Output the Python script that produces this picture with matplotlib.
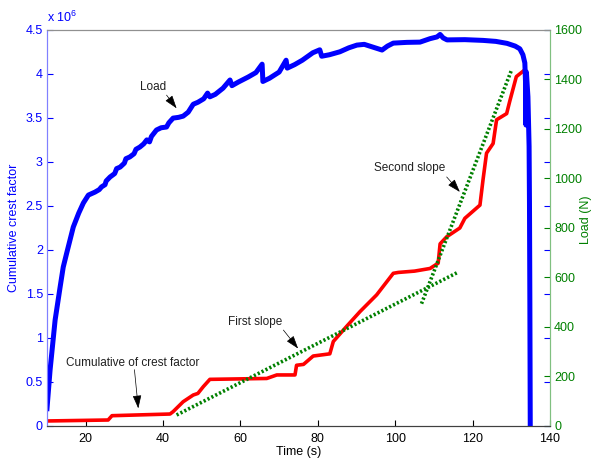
#!/usr/bin/env python3
"""========================================================================
Purpose:
    Cumulative crest factor and load versus time (plotyy style chart)
========================================================================"""
#=========================================================================#
# Preamble                                                                #
#=========================================================================#
import matplotlib
matplotlib.use('Agg')
import matplotlib.pyplot as plt
#=========================================================================#
# Data                                   #
#=========================================================================#
# Load (N), right axis
load_t  = [10, 10.8, 12.1, 13.4, 14.2, 15.1, 16.8, 18.2, 19.4, 20.7, 22.4,
           23.5, 24.1, 25.0, 25.3, 26.3, 27.5, 28.0, 28.9, 30.0, 30.4, 31.4,
           32.5, 33.0, 34.0, 35.0, 35.8, 36.5, 37.0, 38.3, 39.5, 40.9, 41.5,
           42.6, 44.0, 45.2, 46.5, 47.8, 49.0, 50.5, 51.5, 52.1, 53.5, 55.5,
           57.3, 57.8, 59.5, 62.0, 64.0, 65.6, 65.8, 67.5, 70.0, 71.8, 72.1,
           74.0, 76.0, 78.7, 80.5, 81.0, 83.0, 85.7, 88.0, 90.1, 92.0, 94.0,
           96.6, 98.0, 99.5, 103.0, 106.4, 109.0, 110.8, 111.6, 112.4, 113.4,
           118.0, 122.7, 126.0, 128.9, 131.0, 132.2, 133.0, 133.5, 133.7,
           133.8, 133.9, 134.3, 134.6, 134.7, 134.8, 134.9]
load_N  = [70, 226, 428, 562, 642, 699, 804, 860, 901, 933, 945,
           955, 966, 975, 990, 1006, 1020, 1040, 1046, 1062, 1080, 1087,
           1100, 1118, 1127, 1140, 1156, 1148, 1170, 1196, 1205, 1208, 1225,
           1244, 1247, 1252, 1268, 1300, 1308, 1322, 1345, 1330, 1340, 1365,
           1398, 1375, 1390, 1410, 1428, 1462, 1392, 1405, 1430, 1478, 1446,
           1460, 1478, 1508, 1520, 1494, 1500, 1512, 1528, 1539, 1542, 1532,
           1519, 1535, 1547, 1550, 1551, 1565, 1572, 1582, 1568, 1560,
           1561, 1558, 1554, 1546, 1535, 1524, 1500, 1467, 1380,
           1216, 1430, 1330, 1130, 900, 500, 0]
# Cumulative of crest factor (x 10^6), left axis
crest_t = [10, 25.8, 26.8, 41.8, 42.6, 45.2, 47.8, 49.0, 50.4, 52.1, 66.8,
           69.4, 74.1, 74.5, 76.3, 78.8, 83.1, 84.0, 87.4, 90.9, 95.2, 99.5,
           100.8, 105.0, 109.0, 111.1, 111.6, 113.3, 116.7, 118.0, 121.9,
           122.7, 123.6, 125.3, 126.2, 128.8, 129.6, 131.3, 133.0]
crest_v = [0.057, 0.068, 0.117, 0.136, 0.163, 0.276, 0.352, 0.37, 0.447,
           0.53, 0.54, 0.58, 0.58, 0.69, 0.70, 0.795, 0.82, 0.96, 1.13, 1.30,
           1.49, 1.735, 1.745, 1.76, 1.79, 1.85, 2.07, 2.15, 2.25, 2.36, 2.51,
           2.80, 3.10, 3.21, 3.48, 3.55, 3.69, 3.97, 4.03]
# Fitted slopes
slope1_t = [43.5, 115.9]
slope1_v = [0.125, 1.74]
slope2_t = [106.8, 130.1]
slope2_v = [1.39, 4.05]
# Ticks
x_ticks     = [20, 40, 60, 80, 100, 120, 140]
left_ticks  = [0, 0.5, 1, 1.5, 2, 2.5, 3, 3.5, 4, 4.5]
left_labels = ['0', '0.5', '1', '1.5', '2', '2.5', '3', '3.5', '4', '4.5']
right_ticks = [0, 200, 400, 600, 800, 1000, 1200, 1400, 1600]
#=========================================================================#
# Main                                                                    #
#=========================================================================#
if __name__ == '__main__':
    #---------------------------------------------------------------------#
    # Plotting settings                                                   #
    #---------------------------------------------------------------------#
    plt.rcParams['font.family']      = ['Liberation Sans', 'DejaVu Sans']
    plt.rcParams['font.size']        = 9
    plt.rcParams['mathtext.fontset'] = 'custom'
    plt.rcParams['mathtext.rm']      = 'Liberation Sans'
    BLUE    = '#0000ff'
    GREEN   = '#008000'
    RED     = '#ff0000'

    fig = plt.figure(figsize=(5.94, 4.58), dpi=100)
    ax1 = fig.add_axes([0.0791, 0.0699, 0.8468, 0.8646])
    ax2 = ax1.twinx()
    #---------------------------------------------------------------------#
    # Left axis: crest factor and slopes                                  #
    #---------------------------------------------------------------------#
    ax1.plot(crest_t, crest_v, color=RED, lw=2.6, solid_joinstyle='round')
    ax1.plot(slope1_t, slope1_v, color=GREEN, lw=2.6, linestyle=(0, (0.6, 0.6)))
    ax1.plot(slope2_t, slope2_v, color=GREEN, lw=2.6, linestyle=(0, (0.6, 0.6)))
    ax1.set_xlim(10, 140)
    ax1.set_ylim(0, 4.5)
    ax1.set_xticks(x_ticks)
    ax1.set_yticks(left_ticks)
    ax1.set_yticklabels(left_labels)
    ax1.tick_params(axis='x', direction='in', length=4, pad=5, colors='k')
    ax1.tick_params(axis='y', direction='in', length=4, pad=3, right=True,
                    colors=BLUE)
    ax1.set_xlabel('Time (s)', labelpad=1)
    ax1.set_ylabel('Cumulative crest factor', color=BLUE, labelpad=4)
    ax1.text(0.0, 1.012, r'x 10$^{6}$', color=BLUE, transform=ax1.transAxes,
             ha='left', va='bottom', fontsize=9)
    #---------------------------------------------------------------------#
    # Right axis: load                                                    #
    #---------------------------------------------------------------------#
    ax2.plot(load_t, load_N, color=BLUE, lw=3.6, solid_joinstyle='round')
    ax2.set_ylim(0, 1600)
    ax2.set_yticks(right_ticks)
    ax2.tick_params(axis='y', direction='in', length=4, pad=3, colors=GREEN)
    fig.text(0.986, 0.52, 'Load (N)', color=GREEN, rotation=90,
             ha='center', va='center', fontsize=9)
    #---------------------------------------------------------------------#
    # Spines                                                              #
    #---------------------------------------------------------------------#
    for ax in (ax1, ax2):
        ax.spines['left'].set_color('#8080ff')
        ax.spines['right'].set_color('#80c080')
        ax.spines['top'].set_color('#909090')
        ax.spines['bottom'].set_color('#404040')
        for s in ax.spines.values():
            s.set_linewidth(0.8)
    #---------------------------------------------------------------------#
    # Annotations                                                         #
    #---------------------------------------------------------------------#
    aprops = dict(arrowstyle='-|>,head_length=0.9,head_width=0.3',
                  color='k', lw=0.5, shrinkA=0, shrinkB=0)
    notes = [('Load',                       (37.4, 3.85), (40.9, 3.76), (43.5, 3.61)),
             ('Cumulative of crest factor', (32.2, 0.72), (32.6, 0.64), (33.6, 0.20)),
             ('First slope',                (63.7, 1.185), (71.1, 1.09), (74.9, 0.88)),
             ('Second slope',               (103.8, 2.93), (113.3, 2.83), (116.7, 2.66))]
    for txt, pos, tail, tip in notes:
        ax2.annotate('', xy=tip, xytext=tail,
                     xycoords=ax1.transData, textcoords=ax1.transData,
                     arrowprops=aprops)
        ax2.text(pos[0], pos[1], txt, transform=ax1.transData,
                 ha='center', va='center', fontsize=8.5, color='#202020')

    fig.savefig('out.png', dpi=100, facecolor='white')
    plt.close()
